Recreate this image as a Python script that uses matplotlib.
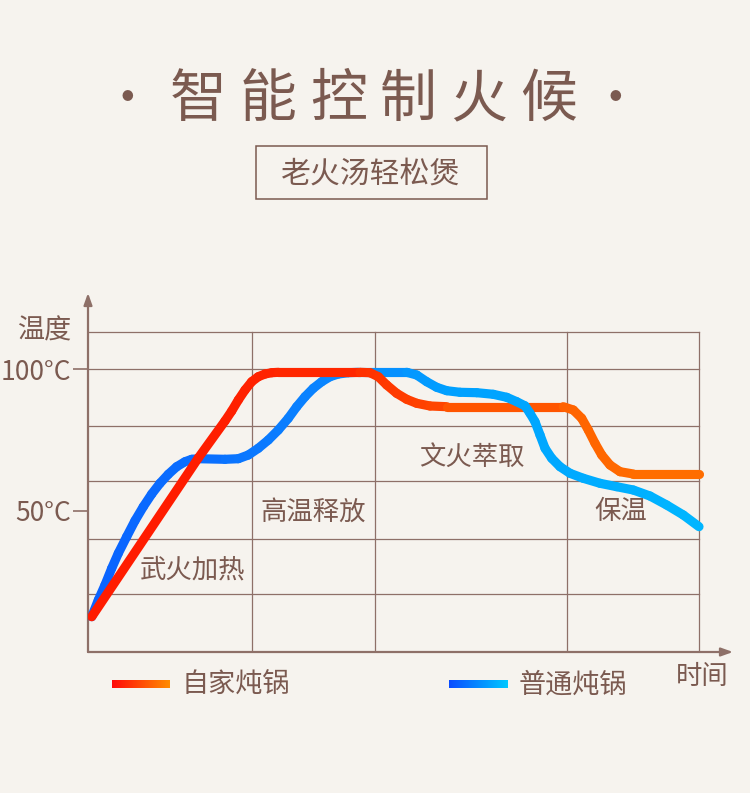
import numpy as np
import matplotlib.pyplot as plt
from matplotlib.collections import LineCollection
from matplotlib.colors import LinearSegmentedColormap

plt.rcParams['font.family'] = ['Noto Sans CJK SC', 'DejaVu Sans']

W, H = 750, 793
BG = '#f6f3ee'
BROWN = '#7b5a50'
GRID = '#8e7068'

# time on 0..100, temperature in °C
home_t = [0.61, 18.05, 22.42, 23.52, 24.60, 25.70, 26.79, 27.87, 28.97, 30.07, 31.15,
          44.52, 46.15, 47.51, 48.89, 50.52, 52.16, 53.80, 55.97, 58.71,
          77.79, 79.43, 80.80, 81.88, 82.98, 84.08, 85.43, 87.07, 89.25, 100.0]
home_T = [12.47, 68.55, 81.63, 85.16, 89.05, 92.58, 95.51, 97.28, 98.23, 98.69, 98.83,
          98.83, 98.69, 97.28, 94.35, 91.41, 89.29, 87.88, 86.93, 86.68,
          86.68, 85.51, 82.58, 78.45, 73.75, 69.61, 66.08, 63.71, 62.90, 62.90]

common_t = [0.61, 1.69, 2.78, 3.88, 4.96, 6.33, 7.69, 9.05, 10.43, 11.78, 13.14, 14.52,
            15.88, 16.97, 18.05, 22.42, 24.60, 26.24, 27.87, 29.51, 31.15, 32.78,
            34.16, 35.52, 36.87, 38.25, 39.61, 40.97, 42.60, 44.24, 52.16, 53.80,
            55.43, 57.07, 58.71, 60.88, 63.62, 66.33, 68.53, 70.16, 71.52, 72.34,
            73.16, 73.98, 74.80, 75.89, 77.25, 78.89, 81.06, 83.80, 86.53, 89.25,
            91.98, 94.71, 97.43, 100.0]
common_T = [12.47, 18.37, 23.67, 29.58, 34.88, 40.74, 46.40, 51.34, 55.83, 59.61, 62.79, 65.48,
            67.24, 68.09, 68.30, 68.09, 68.30, 69.61, 71.98, 74.91, 78.45, 82.58,
            86.68, 90.21, 93.18, 95.51, 97.28, 98.23, 98.69, 98.83, 98.83, 97.88,
            95.51, 93.53, 92.33, 91.77, 91.63, 91.06, 90.00, 88.45, 86.98, 84.35,
            81.38, 76.68, 71.98, 68.45, 65.48, 63.14, 61.38, 59.61, 58.41, 57.24,
            55.12, 51.94, 48.41, 44.28]

grid_T = [20.5, 40, 60.5, 80, 100, 113]
grid_t = [26.8, 47.0, 78.4, 100]
y_ticks = [50, 100]
y_labels = ['50°C', '100°C']

stages = ['武火加热', '高温释放', '文火萃取', '保温']
stage_t = [17.2, 36.8, 62.8, 87.2]
stage_T = [29.0, 49.5, 68.9, 49.8]

title_chars = ['智', '能', '控', '制', '火', '候']
subtitle = '老火汤轻松煲'
legend_names = ['自家炖锅', '普通炖锅']

red_cmap = LinearSegmentedColormap.from_list(
    'r', ['#ff1a00', '#ff1e00', '#ff2800', '#ff4a00', '#ff6400', '#ff7000'])
blue_cmap = LinearSegmentedColormap.from_list(
    'b', ['#0a62ff', '#0a70ff', '#0a86ff', '#00a0ff', '#00aaff', '#00b6ff'])
red_bar = LinearSegmentedColormap.from_list('rb', ['#ff0a0a', '#ff8c00'])
blue_bar = LinearSegmentedColormap.from_list('bb', ['#0a4cff', '#00c8ff'])


def fx(px):
    return px / W


def fy(py):
    return 1 - py / H


fig = plt.figure(figsize=(W / 100, H / 100), dpi=100, facecolor=BG)

# main chart axes: left 88px, right 733px, top 293px, bottom 652px
xmax = 645 / 6.11
ymax = 359 / 2.83
ax = fig.add_axes([fx(88), fy(652), 645 / W, 359 / H])
ax.set_facecolor('none')
ax.set_xlim(0, xmax)
ax.set_ylim(0, ymax)
for s in ax.spines.values():
    s.set_visible(False)

for g in grid_T:
    ax.plot([0, 100], [g, g], color=GRID, lw=0.9, zorder=1)
for g in grid_t:
    ax.plot([g, g], [0, grid_T[-1]], color=GRID, lw=0.9, zorder=1)

ax.annotate('', xy=(xmax, 0), xytext=(0, 0),
            arrowprops=dict(arrowstyle='-|>,head_length=0.7,head_width=0.25',
                            color=GRID, lw=1.6, shrinkA=0, shrinkB=0),
            annotation_clip=False)
ax.annotate('', xy=(0, ymax), xytext=(0, 0),
            arrowprops=dict(arrowstyle='-|>,head_length=0.7,head_width=0.25',
                            color=GRID, lw=1.6, shrinkA=0, shrinkB=0),
            annotation_clip=False)

ax.set_xticks([])
ax.set_yticks(y_ticks)
ax.set_yticklabels(y_labels)
ax.tick_params(axis='y', length=11, width=1.2, color=GRID, pad=1,
               labelsize=19, labelcolor=BROWN)


def grad_line(t, T, cmap, split=None, z_lo=3, z_hi=5):
    t = np.asarray(t)
    T = np.asarray(T)
    pts = np.column_stack([t, T]).reshape(-1, 1, 2)
    segs = np.concatenate([pts[:-1], pts[1:]], axis=1)
    mids = (t[:-1] + t[1:]) / 2
    cols = cmap(mids / 100)
    if split is None:
        groups = [(np.ones(len(mids), bool), z_lo)]
    else:
        groups = [(mids < split, z_lo), (mids >= split, z_hi)]
    for m, z in groups:
        lc = LineCollection(segs[m], colors=cols[m], linewidths=6.6,
                            capstyle='round', joinstyle='round', zorder=z)
        ax.add_collection(lc)


grad_line(common_t, common_T, blue_cmap, split=62, z_lo=3, z_hi=5)
grad_line(home_t, home_T, red_cmap, z_lo=4)

for name, t, T in zip(stages, stage_t, stage_T):
    ax.text(t, T, name, ha='center', va='center', fontsize=19, color=BROWN, zorder=6)

# title
fig.text(fx(127), fy(100), '·', ha='center', va='center', fontsize=30,
         color=BROWN, fontweight='bold')
fig.text(fx(615), fy(100), '·', ha='center', va='center', fontsize=30,
         color=BROWN, fontweight='bold')
for i, ch in enumerate(title_chars):
    fig.text(fx(198 + i * 70.2), fy(100), ch, ha='center', va='center',
             fontsize=41, color=BROWN, fontweight='medium')

fig.patches.append(plt.Rectangle((fx(256), fy(199)), 231 / W, 53 / H,
                                 transform=fig.transFigure, fill=False,
                                 edgecolor=BROWN, lw=1.1))
fig.text(fx(371), fy(174), subtitle, ha='center', va='center',
         fontsize=21.5, color=BROWN)

fig.text(fx(44), fy(331), '温度', ha='center', va='center', fontsize=19.5, color=BROWN)
fig.text(fx(702), fy(676), '时间', ha='center', va='center', fontsize=19, color=BROWN)

# legend
grad = np.linspace(0, 1, 256).reshape(1, -1)
for x0, cmap, name in [(112, red_bar, legend_names[0]), (449, blue_bar, legend_names[1])]:
    bax = fig.add_axes([fx(x0), fy(688), 58 / W, 8 / H])
    bax.imshow(grad, aspect='auto', cmap=cmap)
    bax.axis('off')
    fig.text(fx(x0 + 70), fy(685), name, ha='left', va='center',
             fontsize=19.5, color=BROWN)

fig.savefig('out.png', dpi=100, facecolor=BG)
